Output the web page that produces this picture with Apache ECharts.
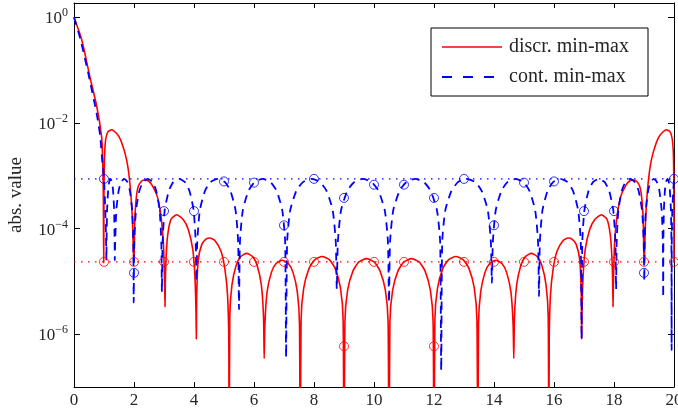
<!DOCTYPE html>
<html><head><meta charset="utf-8">
<script src="https://cdn.jsdelivr.net/npm/echarts@6/dist/echarts.min.js"></script>
<style>html,body{margin:0;padding:0;background:#fff}#c{width:678px;height:413px}</style>
</head><body><div id="c"></div>
<script>
const xTicks = [0,2,4,6,8,10,12,14,16,18,20];
const yTickExponents = [-6,-4,-2,0];
const seriesNames = ['discr. min-max','cont. min-max'];
const discrLevel = 2.34e-5;
const contLevel = 8.71e-4;
const sampleX = [1,2,3,4,5,6,7,8,9,10,11,12,13,14,15,16,17,18,19,20];
const discrSamples = [2.34e-5,2.34e-5,2.34e-5,2.34e-5,2.34e-5,2.34e-5,2.34e-5,2.34e-5,5.9e-7,2.34e-5,2.34e-5,5.9e-7,2.34e-5,2.34e-5,2.34e-5,2.34e-5,2.34e-5,2.34e-5,2.34e-5,2.34e-5];
const contSamples = [8.71e-4,1.45e-5,2.14e-4,2.14e-4,7.8e-4,7.4e-4,1.15e-4,8.71e-4,3.8e-4,6.76e-4,6.76e-4,3.8e-4,8.71e-4,1.15e-4,7.4e-4,7.8e-4,2.14e-4,2.14e-4,1.45e-5,8.71e-4];

const discrCurve = [
[0,1],[0.26,0.372],[0.53,0.0741],[0.76,0.0204],[0.92,5.5e-3],[0.95,2.51e-3],[0.975,6.31e-4],[0.99,2.24e-5],
[1.0,5.01e-4],[1.02,2.51e-3],[1.06,5.01e-3],[1.13,6.76e-3],[1.26,7.41e-3],[1.5,5.52e-3],[1.7,2.68e-3],[1.81,1.3e-3],[1.9,4.07e-4],[1.956,1.1e-4],[1.985,2.63e-5],[2.0,2.24e-5],
[2.02,1.0e-4],[2.044,2.29e-4],[2.09,4.47e-4],[2.144,6.31e-4],[2.256,7.94e-4],[2.367,8.32e-4],[2.48,7.94e-4],[2.59,6.76e-4],[2.78,3.98e-4],[2.9,1.7e-4],[2.98,5.37e-5],[3.02,9.33e-6],[3.033,3.31e-6],
[3.045,1.0e-5],[3.067,2.63e-5],[3.12,7.24e-5],[3.23,1.48e-4],[3.42,1.82e-4],[3.64,1.48e-4],[3.81,9.55e-5],[3.96,3.98e-5],[4.03,1.26e-5],[4.065,2.95e-6],[4.078,8.13e-7],
[4.09,5.25e-6],[4.14,2.51e-5],[4.26,5.01e-5],[4.4,6.31e-5],[4.53,6.61e-5],[4.7,5.89e-5],[4.9,3.72e-5],[5.03,1.7e-5],[5.12,5.25e-6],[5.16,6.92e-7],[5.17,1e-9],
[5.193,2.14e-6],[5.264,8.51e-6],[5.404,2.0e-5],[5.556,2.94e-5],[5.755,3.39e-5],[5.954,2.94e-5],[6.106,2.0e-5],[6.246,8.51e-6],[6.317,2.14e-6],[6.34,3.47e-7],
[6.364,1.58e-6],[6.436,6.31e-6],[6.58,1.48e-5],[6.736,2.18e-5],[6.94,2.51e-5],[7.144,2.18e-5],[7.3,1.48e-5],[7.444,6.31e-6],[7.516,1.58e-6],[7.54,1e-9],
[7.569,1.86e-6],[7.657,7.41e-6],[7.832,1.74e-5],[8.022,2.56e-5],[8.27,2.95e-5],[8.518,2.56e-5],[8.708,1.74e-5],[8.883,7.41e-6],[8.971,1.86e-6],[9.0,1e-9],
[9.03,1.7e-6],[9.12,6.76e-6],[9.3,1.58e-5],[9.495,2.33e-5],[9.75,2.69e-5],[10.005,2.33e-5],[10.2,1.58e-5],[10.38,6.76e-6],[10.47,1.7e-6],[10.5,1e-9],
[10.53,1.7e-6],[10.62,6.76e-6],[10.8,1.58e-5],[10.995,2.33e-5],[11.25,2.69e-5],[11.505,2.33e-5],[11.7,1.58e-5],[11.88,6.76e-6],[11.97,1.7e-6],[12.0,1e-9],
[12.029,1.86e-6],[12.117,7.41e-6],[12.292,1.74e-5],[12.482,2.56e-5],[12.73,2.95e-5],[12.978,2.56e-5],[13.168,1.74e-5],[13.343,7.41e-6],[13.431,1.86e-6],[13.46,1e-9],
[13.484,1.58e-6],[13.556,6.31e-6],[13.7,1.48e-5],[13.856,2.18e-5],[14.06,2.51e-5],[14.264,2.18e-5],[14.42,1.48e-5],[14.564,6.31e-6],[14.636,1.58e-6],[14.66,3.47e-7],
[14.683,2.14e-6],[14.754,8.51e-6],[14.894,2.0e-5],[15.046,2.94e-5],[15.245,3.39e-5],[15.444,2.94e-5],[15.596,2.0e-5],[15.736,8.51e-6],[15.807,2.14e-6],[15.83,1e-9],
[15.84,6.92e-7],[15.88,5.25e-6],[15.97,1.7e-5],[16.1,3.72e-5],[16.3,5.89e-5],[16.47,6.61e-5],[16.6,6.31e-5],[16.74,5.01e-5],[16.86,2.51e-5],[16.91,5.25e-6],[16.922,8.13e-7],
[16.935,2.95e-6],[16.97,1.26e-5],[17.04,3.98e-5],[17.19,9.55e-5],[17.36,1.48e-4],[17.58,1.82e-4],[17.77,1.48e-4],[17.88,7.24e-5],[17.933,2.63e-5],[17.955,1.0e-5],[17.967,3.31e-6],
[17.98,9.33e-6],[18.02,5.37e-5],[18.1,1.7e-4],[18.22,3.98e-4],[18.41,6.76e-4],[18.52,7.94e-4],[18.633,8.32e-4],[18.744,7.94e-4],[18.856,6.31e-4],[18.91,4.47e-4],[18.956,2.29e-4],[18.98,1.0e-4],[19.0,2.24e-5],
[19.015,2.63e-5],[19.044,1.1e-4],[19.1,4.07e-4],[19.19,1.3e-3],[19.3,2.68e-3],[19.5,5.52e-3],[19.74,7.41e-3],[19.87,6.76e-3],[19.94,5.01e-3],[19.98,2.51e-3],[19.995,5.01e-4],[20.0,2.24e-5]
];

const contCurve = [
[0,1],[0.2,0.41],[0.48,0.085],[0.76,0.0145],[0.87,5.8e-3],[0.95,1.7e-3],[1.0,8.71e-4],[1.04,2.51e-4],[1.065,7.94e-5],[1.08,2.51e-5],
[1.0856,5.5e-5],[1.1024,2.19e-4],[1.136,5.13e-4],[1.1724,7.55e-4],[1.22,8.71e-4],[1.2676,7.55e-4],[1.304,5.13e-4],[1.3376,2.19e-4],[1.3544,5.5e-5],[1.36,2.51e-5],
[1.3726,5.5e-5],[1.4104,2.19e-4],[1.486,5.13e-4],[1.568,7.55e-4],[1.675,8.71e-4],[1.782,7.55e-4],[1.864,5.13e-4],[1.9396,2.19e-4],[1.9774,5.5e-5],[1.99,3.98e-6],
[2.0088,5.5e-5],[2.0652,2.19e-4],[2.178,5.13e-4],[2.30,7.55e-4],[2.46,8.71e-4],[2.62,7.55e-4],[2.742,5.13e-4],[2.8548,2.19e-4],[2.9112,5.5e-5],[2.93,6.31e-6],
[2.953,5.5e-5],[3.022,2.19e-4],[3.16,5.13e-4],[3.3095,7.55e-4],[3.505,8.71e-4],[3.7005,7.55e-4],[3.85,5.13e-4],[3.988,2.19e-4],[4.057,5.5e-5],[4.08,1.0e-5],
[4.1084,5.5e-5],[4.1936,2.19e-4],[4.364,5.13e-4],[4.5486,7.55e-4],[4.79,8.71e-4],[5.0314,7.55e-4],[5.216,5.13e-4],[5.3864,2.19e-4],[5.4716,5.5e-5],[5.5,2.95e-6],
[5.5314,5.5e-5],[5.6256,2.19e-4],[5.814,5.13e-4],[6.0181,7.55e-4],[6.285,8.71e-4],[6.5519,7.55e-4],[6.756,5.13e-4],[6.9444,2.19e-4],[7.0386,5.5e-5],[7.07,3.63e-7],
[7.1038,5.5e-5],[7.2052,2.19e-4],[7.408,5.13e-4],[7.6277,7.55e-4],[7.915,8.71e-4],[8.2023,7.55e-4],[8.422,5.13e-4],[8.6248,2.19e-4],[8.7262,5.5e-5],[8.76,7.08e-6],
[8.7948,5.5e-5],[8.8992,2.19e-4],[9.108,5.13e-4],[9.3342,7.55e-4],[9.63,8.71e-4],[9.9258,7.55e-4],[10.152,5.13e-4],[10.3608,2.19e-4],[10.4652,5.5e-5],[10.5,3.98e-6],
[10.5348,5.5e-5],[10.6392,2.19e-4],[10.848,5.13e-4],[11.0742,7.55e-4],[11.37,8.71e-4],[11.6658,7.55e-4],[11.892,5.13e-4],[12.1008,2.19e-4],[12.2052,5.5e-5],[12.24,2.04e-7],
[12.2738,5.5e-5],[12.3752,2.19e-4],[12.578,5.13e-4],[12.7977,7.55e-4],[13.085,8.71e-4],[13.3723,7.55e-4],[13.592,5.13e-4],[13.7948,2.19e-4],[13.8962,5.5e-5],[13.93,9.33e-6],
[13.9614,5.5e-5],[14.0556,2.19e-4],[14.244,5.13e-4],[14.4481,7.55e-4],[14.715,8.71e-4],[14.9819,7.55e-4],[15.186,5.13e-4],[15.3744,2.19e-4],[15.4686,5.5e-5],[15.5,5.25e-6],
[15.5284,5.5e-5],[15.6136,2.19e-4],[15.784,5.13e-4],[15.9686,7.55e-4],[16.21,8.71e-4],[16.4514,7.55e-4],[16.636,5.13e-4],[16.8064,2.19e-4],[16.8916,5.5e-5],[16.92,8.13e-7],
[16.943,5.5e-5],[17.012,2.19e-4],[17.15,5.13e-4],[17.2995,7.55e-4],[17.495,8.71e-4],[17.6905,7.55e-4],[17.84,5.13e-4],[17.978,2.19e-4],[18.047,5.5e-5],[18.07,7.08e-6],
[18.0888,5.5e-5],[18.1452,2.19e-4],[18.258,5.13e-4],[18.38,7.55e-4],[18.54,8.71e-4],[18.7,7.55e-4],[18.822,5.13e-4],[18.9348,2.19e-4],[18.9912,5.5e-5],[19.01,1.0e-5],
[19.0226,5.5e-5],[19.0604,2.19e-4],[19.136,5.13e-4],[19.218,7.55e-4],[19.325,8.71e-4],[19.432,7.55e-4],[19.514,5.13e-4],[19.5896,2.19e-4],[19.6274,5.5e-5],[19.64,5.01e-6],
[19.6456,5.5e-5],[19.6624,2.19e-4],[19.696,5.13e-4],[19.7324,7.55e-4],[19.78,8.71e-4],[19.8276,7.55e-4],[19.864,5.13e-4],[19.8976,2.19e-4],[19.9144,5.5e-5],[19.92,5.01e-7],
[19.9256,5.5e-5],[19.9424,2.19e-4],[19.976,5.13e-4],[20.0,8.71e-4]
];

const RED = '#ff0000', BLUE = '#0000ff', INK = '#262626';
const FONT = 'Liberation Serif';
const lg = pts => pts.map(p => [p[0], Math.log10(p[1])]);
const pairs = (xs, ys) => xs.map((x, i) => [x, Math.log10(ys[i])]);

const chart = echarts.init(document.getElementById('c'), null, {renderer: 'canvas'});
const axisLine = {show: true, onZero: false, lineStyle: {color: '#000', width: 1}};
const tickStyle = {color: '#000', width: 1};
const supFmt = v => '{b|10}{s|' + (v < 0 ? '\u2212' + (-v) : String(v)) + '}';

chart.setOption({
  animation: false,
  backgroundColor: '#fff',
  grid: {left: 74, right: 4, top: 3, bottom: 26, containLabel: false, outerBoundsMode: 'none'},
  xAxis: [
    {type: 'value', min: xTicks[0], max: xTicks[xTicks.length - 1], interval: 2, position: 'bottom',
     axisLine, axisTick: {show: true, inside: true, length: 5, lineStyle: tickStyle},
     axisLabel: {show: true, margin: 5, color: INK, fontFamily: FONT, fontSize: 17, hideOverlap: false},
     splitLine: {show: false}},
    {type: 'value', min: xTicks[0], max: xTicks[xTicks.length - 1], interval: 2, position: 'top',
     axisLine, axisTick: {show: true, inside: true, length: 5, lineStyle: tickStyle},
     axisLabel: {show: false}, splitLine: {show: false}}
  ],
  yAxis: [
    {type: 'value', min: -7, max: 0.27, position: 'left',
     axisLine, axisTick: {show: true, inside: true, length: 6, lineStyle: tickStyle, customValues: yTickExponents},
     axisLabel: {show: true, margin: 6, customValues: yTickExponents, formatter: supFmt,
       rich: {
         b: {fontFamily: FONT, fontSize: 17, color: INK, lineHeight: 20, verticalAlign: 'bottom'},
         s: {fontFamily: FONT, fontSize: 12, color: INK, lineHeight: 12, verticalAlign: 'top'}
       }},
     splitLine: {show: false},
     name: 'abs. value', nameLocation: 'middle', nameGap: 48,
     nameTextStyle: {fontFamily: FONT, fontSize: 19, color: INK}},
    {type: 'value', min: -7, max: 0.27, position: 'right',
     axisLine, axisTick: {show: true, inside: true, length: 6, lineStyle: tickStyle, customValues: yTickExponents},
     axisLabel: {show: false}, splitLine: {show: false}}
  ],
  series: [
    {type: 'line', name: 'discrLevel', data: [[0, Math.log10(discrLevel)], [20, Math.log10(discrLevel)]],
     symbol: 'none', silent: true, lineStyle: {color: RED, width: 1.3, type: [1.5, 5.5]}, z: 2},
    {type: 'line', name: 'contLevel', data: [[0, Math.log10(contLevel)], [20, Math.log10(contLevel)]],
     symbol: 'none', silent: true, lineStyle: {color: BLUE, width: 1.3, type: [1.5, 5.5]}, z: 2},
    {type: 'line', name: seriesNames[0], data: lg(discrCurve), symbol: 'none', smooth: 0.2,
     lineStyle: {color: RED, width: 1.6}, z: 3},
    {type: 'line', name: seriesNames[1], data: lg(contCurve), symbol: 'none', smooth: 0.2,
     lineStyle: {color: BLUE, width: 1.8, type: [8, 6]}, z: 4},
    {type: 'scatter', name: 'discrSamples', data: pairs(sampleX, discrSamples), symbol: 'circle', symbolSize: 9,
     itemStyle: {color: 'rgba(0,0,0,0)', borderColor: RED, borderWidth: 1}, z: 5},
    {type: 'scatter', name: 'contSamples', data: pairs(sampleX, contSamples), symbol: 'circle', symbolSize: 9,
     itemStyle: {color: 'rgba(0,0,0,0)', borderColor: BLUE, borderWidth: 1}, z: 5}
  ],
  graphic: [
    {type: 'rect', shape: {x: 431, y: 28, width: 217, height: 68}, style: {fill: '#fff', stroke: '#000', lineWidth: 1}, z: 100},
    {type: 'line', shape: {x1: 442, y1: 47, x2: 502, y2: 47}, style: {stroke: RED, lineWidth: 1.6}, z: 101},
    {type: 'line', shape: {x1: 442, y1: 77, x2: 502, y2: 77}, style: {stroke: BLUE, lineWidth: 1.8, lineDash: [10, 11]}, z: 101},
    {type: 'text', x: 509, y: 47, style: {text: seriesNames[0], fontFamily: FONT, fontSize: 20, fill: INK, verticalAlign: 'middle'}, z: 101},
    {type: 'text', x: 509, y: 77, style: {text: seriesNames[1], fontFamily: FONT, fontSize: 20, fill: INK, verticalAlign: 'middle'}, z: 101}
  ]
});
</script>
</body></html>
